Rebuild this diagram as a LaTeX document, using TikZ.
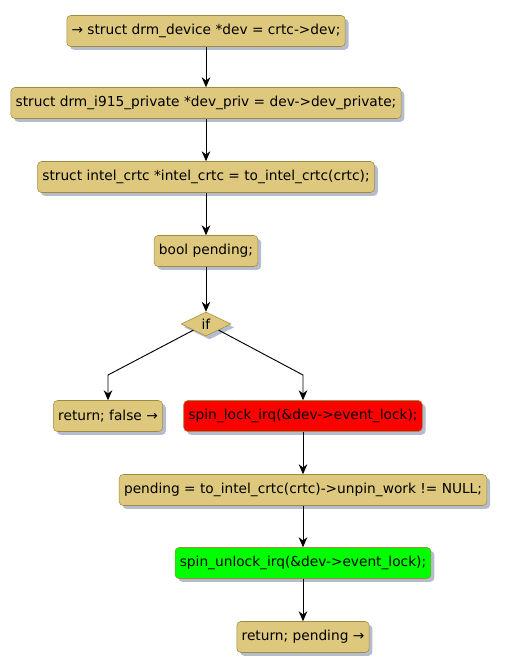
\documentclass[tikz,border=0pt]{standalone}
\usepackage{fontspec}
\setmainfont{DejaVu Sans}
\usetikzlibrary{arrows.meta,shapes.geometric,shadows}
\definecolor{actfill}{RGB}{221,200,125}
\definecolor{actline}{RGB}{160,138,62}
\definecolor{shade}{RGB}{150,160,185}

\begin{document}
\begin{tikzpicture}[x=0.75pt,y=-0.75pt,>={Stealth[length=7.5pt,width=6.5pt]},font=\fontsize{10.3}{12}\selectfont]
  \tikzstyle{act}=[draw=actline,fill=actfill,rounded corners=3pt,minimum height=23.25pt,inner xsep=3.6pt,
    drop shadow={shadow xshift=2.5pt,shadow yshift=-2.5pt,fill=shade,opacity=0.7}]
  \tikzstyle{cond}=[diamond,draw=actline,fill=actfill,aspect=2,minimum width=37.5pt,minimum height=18pt,inner sep=0pt,
    drop shadow={shadow xshift=2.5pt,shadow yshift=-2.5pt,fill=shade,opacity=0.7}]
  \tikzstyle{flow}=[->,line width=0.7pt]
  \useasboundingbox (0,0) rectangle (504,671);
  \node[act] (dev) at (206,31) {→ struct drm\_device *dev = crtc->dev;};
  \node[act] (priv) at (206,103) {struct drm\_i915\_private *dev\_priv = dev->dev\_private;};
  \node[act] (crtc) at (206,177) {struct intel\_crtc *intel\_crtc = to\_intel\_crtc(crtc);};
  \node[act] (pend) at (206,251) {bool pending;};
  \node[cond] (if) at (206,324) {if};
  \node[act] (retf) at (108,416) {return; false →};
  \node[act,fill=red] (lock) at (303,416) {spin\_lock\_irq(\&dev->event\_lock);};
  \node[act] (check) at (303,490) {pending = to\_intel\_crtc(crtc)->unpin\_work != NULL;};
  \node[act,fill=green] (unlock) at (303,563) {spin\_unlock\_irq(\&dev->event\_lock);};
  \node[act] (retp) at (303,637) {return; pending →};
  \coordinate (lbend) at (108,375);
  \coordinate (rbend) at (303,375);
  \draw[flow] (dev) -- (priv);
  \draw[flow] (priv) -- (crtc);
  \draw[flow] (crtc) -- (pend);
  \draw[flow] (pend) -- (if);
  \draw[flow] (if.south west) -- (lbend) -- (retf);
  \draw[flow] (if.south east) -- (rbend) -- (lock);
  \draw[flow] (lock) -- (check);
  \draw[flow] (check) -- (unlock);
  \draw[flow] (unlock) -- (retp);
\end{tikzpicture}
\end{document}
